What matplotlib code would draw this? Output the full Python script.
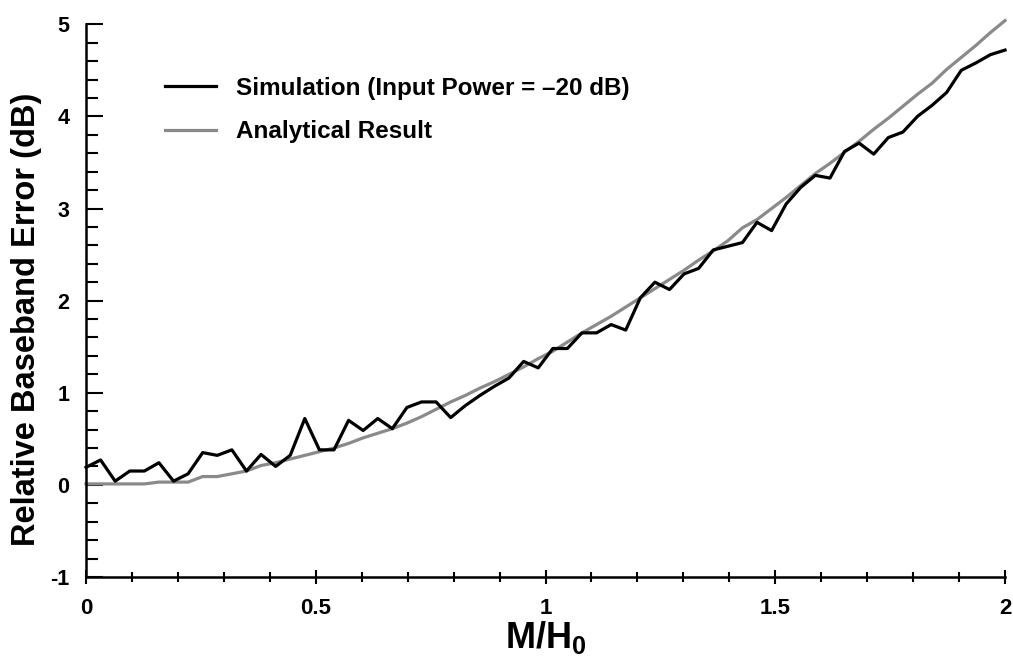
import matplotlib
matplotlib.use('Agg')
import matplotlib.pyplot as plt
from matplotlib.ticker import MultipleLocator

plt.rcParams['font.family'] = ['Liberation Sans', 'DejaVu Sans']
plt.rcParams['font.weight'] = 'bold'
plt.rcParams['axes.unicode_minus'] = False
plt.rcParams['mathtext.fontset'] = 'custom'
plt.rcParams['mathtext.rm'] = 'Liberation Sans:bold'
plt.rcParams['mathtext.bf'] = 'Liberation Sans:bold'
plt.rcParams['mathtext.it'] = 'Liberation Sans:bold'

# 64 samples over M/H0 = 0..2
n_points = 64
m_over_h0 = [2 * k / (n_points - 1) for k in range(n_points)]

simulation = [
    0.19, 0.27, 0.04, 0.15, 0.15, 0.24, 0.04, 0.12, 0.35, 0.32,
    0.38, 0.15, 0.33, 0.20, 0.32, 0.72, 0.38, 0.38, 0.70, 0.59,
    0.72, 0.61, 0.84, 0.90, 0.90, 0.73, 0.86, 0.97, 1.07, 1.16,
    1.34, 1.27, 1.48, 1.48, 1.65, 1.65, 1.74, 1.68, 2.03, 2.20,
    2.12, 2.29, 2.35, 2.55, 2.59, 2.63, 2.85, 2.76, 3.05, 3.23,
    3.36, 3.33, 3.62, 3.71, 3.59, 3.77, 3.83, 4.00, 4.12, 4.26,
    4.50, 4.58, 4.67, 4.72,
]

analytical = [
    0.01, 0.01, 0.01, 0.01, 0.01, 0.03, 0.03, 0.03, 0.09, 0.09,
    0.12, 0.15, 0.21, 0.24, 0.28, 0.32, 0.36, 0.40, 0.45, 0.51,
    0.56, 0.61, 0.67, 0.74, 0.82, 0.90, 0.97, 1.05, 1.12, 1.20,
    1.28, 1.37, 1.45, 1.55, 1.65, 1.74, 1.83, 1.93, 2.03, 2.13,
    2.23, 2.33, 2.44, 2.54, 2.65, 2.79, 2.88, 3.00, 3.12, 3.25,
    3.38, 3.49, 3.61, 3.73, 3.86, 3.98, 4.11, 4.24, 4.36, 4.51,
    4.64, 4.77, 4.91, 5.04,
]

x_ticks = [0, 0.5, 1, 1.5, 2]
x_tick_labels = ['0', '0.5', '1', '1.5', '2']
y_ticks = [-1, 0, 1, 2, 3, 4, 5]

fig = plt.figure(figsize=(10.13, 6.67), dpi=100)
ax = fig.add_axes([86 / 1013, 0.135, 919 / 1013, 0.8286])

ax.plot(m_over_h0, simulation, color='black', lw=2.3, clip_on=False,
        label='Simulation (Input Power = \u201320 dB)', zorder=3)
ax.plot(m_over_h0, analytical, color='#8a8a8a', lw=2.3, clip_on=False,
        label='Analytical Result', zorder=2)

ax.set_xlim(0, 2)
ax.set_ylim(-1, 5)
ax.spines['top'].set_visible(False)
ax.spines['right'].set_visible(False)
ax.spines['left'].set_linewidth(1.8)
ax.spines['bottom'].set_linewidth(1.8)

ax.set_xticks(x_ticks)
ax.set_xticklabels(x_tick_labels)
ax.set_yticks(y_ticks)
ax.xaxis.set_minor_locator(MultipleLocator(0.1))
ax.yaxis.set_minor_locator(MultipleLocator(0.2))
ax.tick_params(axis='y', which='major', direction='in', length=12, width=1.5,
               pad=12, labelsize=15.5)
ax.tick_params(axis='y', which='minor', direction='in', length=8.5, width=1.5)
ax.tick_params(axis='x', which='major', direction='inout', length=10, width=1.5,
               pad=10, labelsize=16)
ax.tick_params(axis='x', which='minor', direction='inout', length=7, width=1.5)

ax.set_ylabel('Relative Baseband Error (dB)', fontsize=23.5, fontweight='bold')
ax.yaxis.set_label_coords(-0.048, 0.467)
ax.set_xlabel(r'$\mathbf{M/H_0}$', fontsize=26)
ax.xaxis.set_label_coords(0.5, -0.076)

ax.legend(loc='upper left', bbox_to_anchor=(0.086, 0.905), frameon=False,
          fontsize=17.5, handlelength=2.1, handletextpad=0.8,
          labelspacing=0.85, borderaxespad=0, borderpad=0)

plt.savefig('out.png', dpi=100)
